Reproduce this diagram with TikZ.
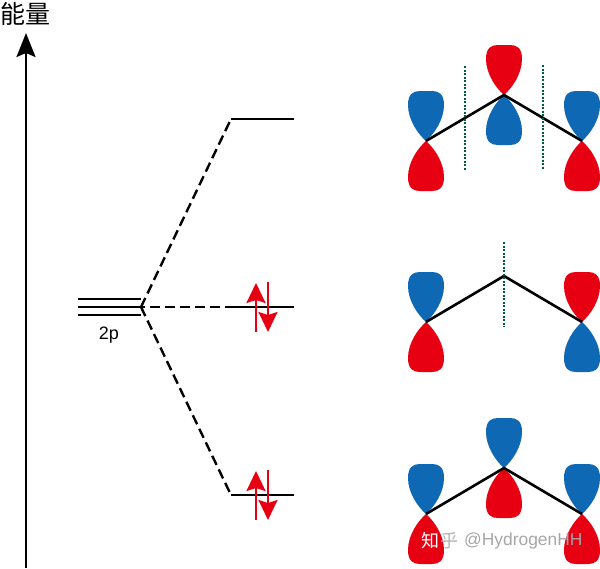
\documentclass[tikz,border=0pt]{standalone}
\usepackage{fontspec}
\setmainfont{Liberation Sans}
\newfontfamily\cjk{Noto Sans CJK SC}
\usepackage{xcolor}
\usetikzlibrary{arrows.meta}
\definecolor{lobered}{RGB}{230,0,18}
\definecolor{lobeblue}{RGB}{15,104,180}
\definecolor{nodalgreen}{RGB}{0,90,60}
\tikzset{
  lobe/.pic={
    \fill[pic actions] (0,0) .. controls (-8,-7) and (-18,-21) .. (-18,-36)
      .. controls (-18,-47) and (-13,-50) .. (-6,-50) -- (6,-50)
      .. controls (13,-50) and (18,-47) .. (18,-36)
      .. controls (18,-21) and (8,-7) .. (0,0) -- cycle;
  },
  up/.style={fill=#1},
  down/.style={fill=#1,yscale=-1},
  level/.style={line width=2.4pt},
  bond/.style={line width=2.6pt},
  corr/.style={line width=2.4pt,dash pattern=on 10pt off 5pt},
  nodal/.style={nodalgreen,line width=2.5pt,dash pattern=on 2pt off 1.5pt},
  spin/.style={lobered,line width=2.4pt,-{Stealth[length=20pt,width=19pt,inset=3pt]}}
}
\begin{document}
\begin{tikzpicture}[x=1pt,y=-1pt]
  \useasboundingbox (0,0) rectangle (600,568);

  % energy axis
  \coordinate (axisbase) at (26,568);
  \node[inner sep=0pt, font=\cjk\fontsize{25}{25}\selectfont] (axislabel) at (26,14) {能量};
  \coordinate (axistip) at (26,33);
  \draw[line width=2.2pt,-{Stealth[length=24pt,width=19pt,inset=4pt]}] (axisbase) -- (axistip);

  % levels
  \coordinate (pa) at (78,299);
  \coordinate (pb) at (141,299);
  \coordinate (pc) at (78,307);
  \coordinate (pd) at (141,307);
  \coordinate (pe) at (78,315);
  \coordinate (pf) at (141,315);
  \draw[level] (pa) -- (pb);
  \draw[level] (pc) -- (pd);
  \draw[level] (pe) -- (pf);
  \node[inner sep=0pt, font=\fontsize{18}{18}\selectfont] (plabel) at (109,335) {2p};

  \coordinate (topl) at (231,119);
  \coordinate (topr) at (294,119);
  \coordinate (midl) at (225,307);
  \coordinate (midr) at (294,307);
  \coordinate (lowl) at (231,495);
  \coordinate (lowr) at (294,495);
  \draw[level] (topl) -- (topr);
  \draw[level] (midl) -- (midr);
  \draw[level] (lowl) -- (lowr);
  \draw[corr] (pd) -- (topl);
  \draw[corr,dash phase=6pt] (pd) -- (midl);
  \draw[corr] (pd) -- (lowl);

  % electrons
  \foreach \y/\name in {332/mid,520/low} {
    \coordinate (\name a) at (256,\y);
    \coordinate (\name b) at (256,\y-49);
    \coordinate (\name c) at (268,\y-50);
    \coordinate (\name d) at (268,\y);
    \draw[spin] (\name a) -- (\name b);
    \draw[spin] (\name c) -- (\name d);
  }

  % orbitals, top
  \coordinate (aa) at (426,141);
  \coordinate (ab) at (504,95);
  \coordinate (ac) at (582,141);
  \pic[up=lobeblue] at (aa) {lobe};
  \pic[down=lobered] at (aa) {lobe};
  \pic[up=lobered] at (ab) {lobe};
  \pic[down=lobeblue] at (ab) {lobe};
  \pic[up=lobeblue] at (ac) {lobe};
  \pic[down=lobered] at (ac) {lobe};
  \draw[bond] (aa) -- (ab) -- (ac);
  \coordinate (na) at (465,66);
  \coordinate (nb) at (465,170);
  \coordinate (nc) at (543,65);
  \coordinate (nd) at (543,169);
  \draw[nodal] (na) -- (nb);
  \draw[nodal] (nc) -- (nd);

  % orbitals, middle
  \coordinate (ba) at (426,322);
  \coordinate (bb) at (504,276);
  \coordinate (bc) at (582,322);
  \pic[up=lobeblue] at (ba) {lobe};
  \pic[down=lobered] at (ba) {lobe};
  \pic[up=lobered] at (bc) {lobe};
  \pic[down=lobeblue] at (bc) {lobe};
  \draw[bond] (ba) -- (bb) -- (bc);
  \coordinate (ne) at (504,242);
  \coordinate (nf) at (504,327);
  \draw[nodal] (ne) -- (nf);

  % orbitals, bottom
  \coordinate (ca) at (426,514);
  \coordinate (cb) at (504,468);
  \coordinate (cc) at (582,514);
  \pic[up=lobeblue] at (ca) {lobe};
  \pic[down=lobered] at (ca) {lobe};
  \pic[up=lobeblue] at (cb) {lobe};
  \pic[down=lobered] at (cb) {lobe};
  \pic[up=lobeblue] at (cc) {lobe};
  \pic[down=lobered] at (cc) {lobe};
  \draw[bond] (ca) -- (cb) -- (cc);

  % watermark
  \node[inner sep=0pt, text=white, font=\cjk\fontsize{18}{18}\selectfont] (markcn) at (430,541) {知};
  \node[inner sep=0pt, text=gray!60, font=\cjk\fontsize{18}{18}\selectfont] (markhu) at (449,541) {乎};
  \node[inner sep=0pt, anchor=west, text=gray!70, font=\fontsize{17.4}{17.4}\selectfont] (markid) at (464,541) {@HydrogenHH};
\end{tikzpicture}
\end{document}
